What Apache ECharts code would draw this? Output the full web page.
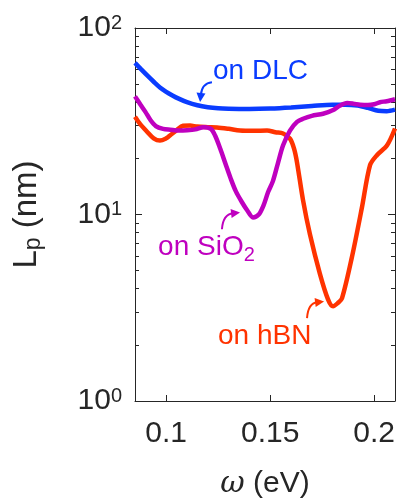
<!DOCTYPE html>
<html><head><meta charset="utf-8">
<script src="https://cdn.jsdelivr.net/npm/echarts@6/dist/echarts.min.js"></script>
<style>html,body{margin:0;padding:0;background:#fff}#c{width:401px;height:504px}</style>
</head><body><div id="c"></div>
<script>
// ---- data ----
const omegaDLC = [0.085,0.088,0.091,0.094,0.097,0.1,0.103,0.106,0.11,0.115,0.12,0.125,0.13,0.14,0.15,0.16,0.17,0.18,0.186,0.192,0.197,0.202,0.206,0.21];
const lpDLC    = [65,60,55.5,51.5,48,45.5,43.5,41.8,40,38.5,37.6,37.1,36.9,36.8,37,37.5,38.2,38.8,38.8,38.4,37.3,36,35.8,36.5];

const omegaSiO2 = [0.085,0.0875,0.09,0.0925,0.095,0.0985,0.102,0.106,0.11,0.114,0.118,0.1215,0.1235,0.126,0.1285,0.131,0.1335,0.1365,0.139,0.1417,0.1445,0.1468,0.149,0.1513,0.1538,0.1562,0.1595,0.1629,0.1658,0.17,0.1754,0.18,0.1836,0.187,0.19,0.1932,0.197,0.2,0.2028,0.206,0.21];
const lpSiO2    = [43,39,35.5,32,29.8,28.8,28.5,28.2,28.3,28.6,29.4,28.8,26.5,22.5,18.7,15.6,13.3,11.6,10.5,9.65,10,11.2,13.2,15.1,19,23.5,28.2,31.4,32.6,33.8,34.7,36.2,38.4,39.6,39.3,38.8,38.6,39,40,40.5,41.5];

const omegaHBN = [0.085,0.0875,0.0908,0.094,0.097,0.1,0.1018,0.105,0.1081,0.1115,0.1148,0.12,0.1244,0.13,0.1355,0.142,0.1485,0.1525,0.1562,0.1595,0.1615,0.1629,0.1658,0.1691,0.1739,0.1778,0.1802,0.1825,0.1845,0.1893,0.1941,0.198,0.2013,0.2062,0.21];
const lpHBN    = [33.4,30.5,27.8,25.6,24.9,25.6,26.5,28.3,29.9,30,29.6,29.4,29.3,28.8,28.2,28.1,28.2,27.6,27.2,25.5,22.5,19,11.9,7.83,4.81,3.51,3.22,3.35,3.55,5.92,10.9,18.4,20.8,23.5,28.9];

const xTicks = [0.1, 0.15, 0.2];
const yMajor = [1, 10, 100];
const yMinor = [2,3,4,5,6,7,8,9,20,30,40,50,60,70,80,90];

const seriesNames = ['on DLC', 'on SiO2', 'on hBN'];
const colors = ['#0a3cff', '#bf00bf', '#ff3300'];

// annotation anchors in data units
const labelPos = [[0.1225, 58.5], [0.0961, 6.68], [0.1249, 2.23]];
const arrows = [
  [[0.122, 51.2], [0.1172, 50.6], [0.1163, 40.1]],
  [[0.1268, 8.34], [0.1273, 10], [0.1355, 10.25]],
  [[0.1677, 2.78], [0.1682, 3.34], [0.1759, 3.42]]
];

const zip = (a, b) => a.map((v, i) => [v, b[i]]);
const FONT = 'Liberation Sans, Arial, Helvetica, sans-serif';
const AX = '#262626';

const chart = echarts.init(document.getElementById('c'), null, {renderer: 'canvas'});

function yLog(pos, ticks, len, showLine, label, extra) {
  return Object.assign({
    type: 'log', logBase: 10, min: 1, max: 100, interval: 1, position: pos,
    axisLine: {show: showLine, onZero: false, lineStyle: {color: AX, width: 1}},
    splitLine: {show: false},
    axisTick: {show: true, inside: true, length: len, customValues: ticks, lineStyle: {color: AX, width: 1}},
    axisLabel: label || {show: false}
  }, extra || {});
}

const option = {
  animation: false,
  backgroundColor: '#fff',
  textStyle: {fontFamily: FONT},
  grid: {left: 135, right: 6, top: 28, bottom: 98},
  xAxis: [
    {type: 'value', position: 'bottom', min: 0.085, max: 0.21,
     axisLine: {show: true, onZero: false, lineStyle: {color: AX, width: 1}},
     splitLine: {show: false},
     axisTick: {show: true, inside: true, length: 6, customValues: xTicks, lineStyle: {color: AX}},
     axisLabel: {customValues: xTicks, fontSize: 30, color: AX, margin: 18, fontFamily: FONT},
     name: '{i|ω} (eV)', nameLocation: 'middle', nameGap: 68,
     nameTextStyle: {fontSize: 30, color: AX, fontFamily: FONT,
       rich: {i: {fontSize: 30, fontStyle: 'italic', fontFamily: 'DejaVu Serif, serif', color: AX}}}},
    {type: 'value', position: 'top', min: 0.085, max: 0.21,
     axisLine: {show: true, onZero: false, lineStyle: {color: AX, width: 1}},
     splitLine: {show: false}, axisLabel: {show: false},
     axisTick: {show: true, inside: true, length: 6, customValues: xTicks, lineStyle: {color: AX}}}
  ],
  yAxis: [
    yLog('left', yMajor, 7, true, {show: true, margin: 13, color: AX,
       formatter: v => '{b|10}{s|' + Math.round(Math.log10(v)) + '}',
       rich: {
         b: {fontSize: 30, lineHeight: 30, verticalAlign: 'bottom', color: AX, fontFamily: FONT},
         s: {fontSize: 20, lineHeight: 20, verticalAlign: 'top', padding: [0, 0, 21, 0], color: AX, fontFamily: FONT}
       }},
      {name: 'L{s|p} (nm)', nameLocation: 'middle', nameGap: 90, nameRotate: 90,
       nameTextStyle: {fontSize: 33, color: AX, fontFamily: FONT,
         rich: {s: {fontSize: 23, color: AX, fontFamily: FONT, verticalAlign: 'bottom', padding: [14, 0, 0, 0]}}}}),
    yLog('right', yMajor, 7, true),
    yLog('left', yMinor, 4, false),
    yLog('right', yMinor, 4, false)
  ],
  series: [
    {name: seriesNames[0], type: 'line', xAxisIndex: 0, yAxisIndex: 0, data: zip(omegaDLC, lpDLC), smooth: 0.3, symbol: 'none', z: 3,
     lineStyle: {color: colors[0], width: 4.5}},
    {name: seriesNames[1], type: 'line', xAxisIndex: 0, yAxisIndex: 0, data: zip(omegaSiO2, lpSiO2), smooth: 0.3, symbol: 'none', z: 4,
     lineStyle: {color: colors[1], width: 4.5}},
    {name: seriesNames[2], type: 'line', xAxisIndex: 0, yAxisIndex: 0, data: zip(omegaHBN, lpHBN), smooth: 0.3, symbol: 'none', z: 2,
     lineStyle: {color: colors[2], width: 4.5}}
  ]
};
chart.setOption(option);

// annotations
const px = p => chart.convertToPixel({xAxisIndex: 0, yAxisIndex: 0}, p);
const graphics = [];
const texts = ['on DLC', 'on SiO{sub|2}', 'on hBN'];
texts.forEach((t, i) => {
  const p = px(labelPos[i]);
  graphics.push({type: 'text', x: p[0], y: p[1], z: 10,
    style: {text: t, fill: colors[i], fontSize: 28, fontFamily: FONT, align: 'left', verticalAlign: 'middle',
      rich: {sub: {fontSize: 20, fill: colors[i], fontFamily: FONT, verticalAlign: 'bottom', padding: [16, 0, 0, 0]}}}});
});
arrows.forEach((a, i) => {
  const P0 = px(a[0]), C = px(a[1]), P1 = px(a[2]);
  let dx = P1[0] - C[0], dy = P1[1] - C[1];
  const len = Math.hypot(dx, dy); dx /= len; dy /= len;
  const L = 9, W = 4.5;
  const bx = P1[0] - dx * L, by = P1[1] - dy * L;
  const nx = -dy, ny = dx;
  graphics.push({type: 'bezierCurve', z: 10,
    shape: {x1: P0[0], y1: P0[1], cpx1: C[0], cpy1: C[1], x2: bx + dx * 2, y2: by + dy * 2},
    style: {stroke: colors[i], lineWidth: 2, fill: null}});
  graphics.push({type: 'polygon', z: 10,
    shape: {points: [[P1[0], P1[1]], [bx + nx * W, by + ny * W], [bx - nx * W, by - ny * W]]},
    style: {fill: colors[i]}});
});
chart.setOption({graphic: graphics});
</script>
</body></html>
